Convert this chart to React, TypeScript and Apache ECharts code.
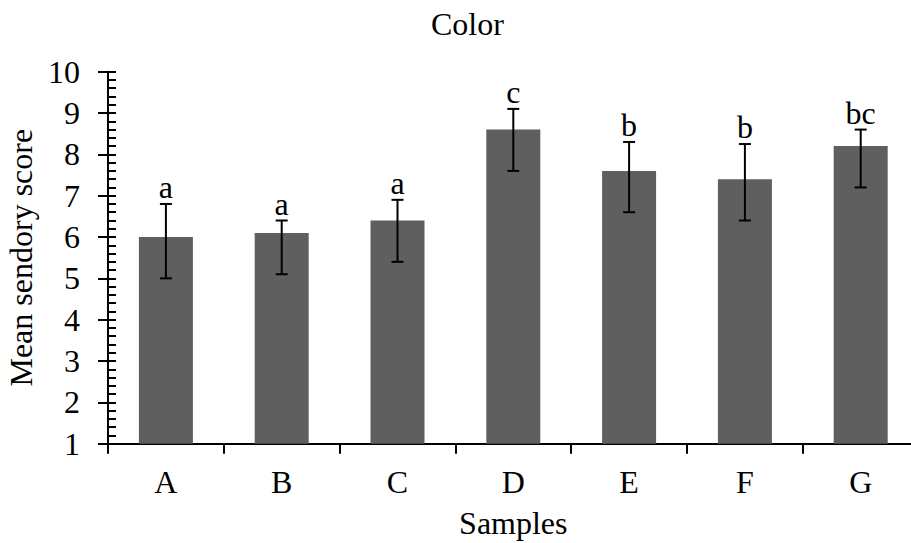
import React, { useEffect, useRef } from "react";
import * as echarts from "echarts";

const categories = ["A", "B", "C", "D", "E", "F", "G"];
const means = [6.0, 6.1, 6.4, 8.6, 7.6, 7.4, 8.2];
const errUp = [0.8, 0.3, 0.5, 0.5, 0.7, 0.85, 0.4];
const errDown = [1.0, 1.0, 1.0, 1.0, 1.0, 1.0, 1.0];
const letters = ["a", "a", "a", "c", "b", "b", "bc"];
const yTicks = [1, 10, 1];

const FONT = '"Liberation Serif", "Times New Roman", serif';
const FS = 32;

export default function App() {
  const ref = useRef<HTMLDivElement>(null);
  useEffect(() => {
    if (!ref.current) return;
    const chart = echarts.init(ref.current, null, { renderer: "svg" });
    const errData = categories.map((_, i) => [i, means[i] + errUp[i], means[i] - errDown[i]]);
    const yBase = {
      type: "value" as const,
      min: yTicks[0],
      max: yTicks[1],
      interval: yTicks[2],
      position: "left" as const,
      splitLine: { show: false },
    };
    chart.setOption({
      animation: false,
      backgroundColor: "#fff",
      title: {
        text: "Color",
        left: 426,
        top: 3,
        textStyle: { fontFamily: FONT, fontSize: FS, fontWeight: "normal", color: "#000" },
      },
      grid: {
        left: 108,
        top: 71.7,
        width: 810.6,
        height: 372,
        containLabel: false,
        outerBoundsMode: "none",
      },
      xAxis: [
        {
          type: "category",
          data: categories,
          position: "bottom",
          axisLine: { lineStyle: { color: "#000", width: 2 } },
          axisTick: { show: true, length: 10, lineStyle: { color: "#000", width: 2 } },
          axisLabel: { fontFamily: FONT, fontSize: FS, color: "#000", margin: 22 },
          name: "Samples",
          nameLocation: "middle",
          nameGap: 63,
          nameTextStyle: { fontFamily: FONT, fontSize: FS, color: "#000" },
        },
        {
          type: "category",
          data: categories,
          position: "bottom",
          axisLine: { show: false },
          axisTick: { show: true, inside: true, alignWithLabel: true, length: 7, lineStyle: { color: "#000", width: 2 } },
          axisLabel: { show: false },
        },
      ],
      yAxis: [
        {
          ...yBase,
          axisLine: { show: true, lineStyle: { color: "#000", width: 2 } },
          axisTick: { show: true, length: 10, lineStyle: { color: "#000", width: 2 } },
          axisLabel: { fontFamily: FONT, fontSize: FS, color: "#000", margin: 28 },
          name: "Mean sendory score",
          nameLocation: "middle",
          nameGap: 60,
          nameTextStyle: { fontFamily: FONT, fontSize: FS, color: "#000" },
        },
        {
          ...yBase,
          offset: 0,
          axisLine: { show: false },
          axisTick: { show: true, inside: true, length: 8, lineStyle: { color: "#000", width: 2 } },
          minorTick: { show: true, splitNumber: 5, length: 8, lineStyle: { color: "#000", width: 2 } },
          axisLabel: { show: false },
        },
      ],
      series: [
        {
          type: "bar",
          data: means,
          barWidth: 54,
          itemStyle: { color: "#5f5f5f" },
          xAxisIndex: 0,
          yAxisIndex: 0,
          z: 2,
        },
        {
          type: "custom",
          xAxisIndex: 0,
          yAxisIndex: 0,
          z: 5,
          data: errData,
          encode: { x: 0, y: [1, 2] },
          renderItem: (params: any, api: any) => {
            const i = api.value(0);
            const hi = api.coord([i, api.value(1)]);
            const lo = api.coord([i, api.value(2)]);
            const cap = 6;
            const st = { stroke: "#000", lineWidth: 2 };
            return {
              type: "group",
              children: [
                { type: "line", shape: { x1: hi[0], y1: hi[1], x2: lo[0], y2: lo[1] }, style: st },
                { type: "line", shape: { x1: hi[0] - cap, y1: hi[1], x2: hi[0] + cap, y2: hi[1] }, style: st },
                { type: "line", shape: { x1: lo[0] - cap, y1: lo[1], x2: lo[0] + cap, y2: lo[1] }, style: st },
                {
                  type: "text",
                  x: hi[0],
                  y: hi[1] - 1,
                  style: {
                    text: letters[params.dataIndex],
                    fill: "#000",
                    font: `${FS}px ${FONT}`,
                    textAlign: "center",
                    textVerticalAlign: "bottom",
                  },
                },
              ],
            };
          },
        },
      ],
    });
    return () => chart.dispose();
  }, []);
  return <div ref={ref} style={{ width: 911, height: 543, position: "absolute", left: 0, top: 0 }} />;
}
